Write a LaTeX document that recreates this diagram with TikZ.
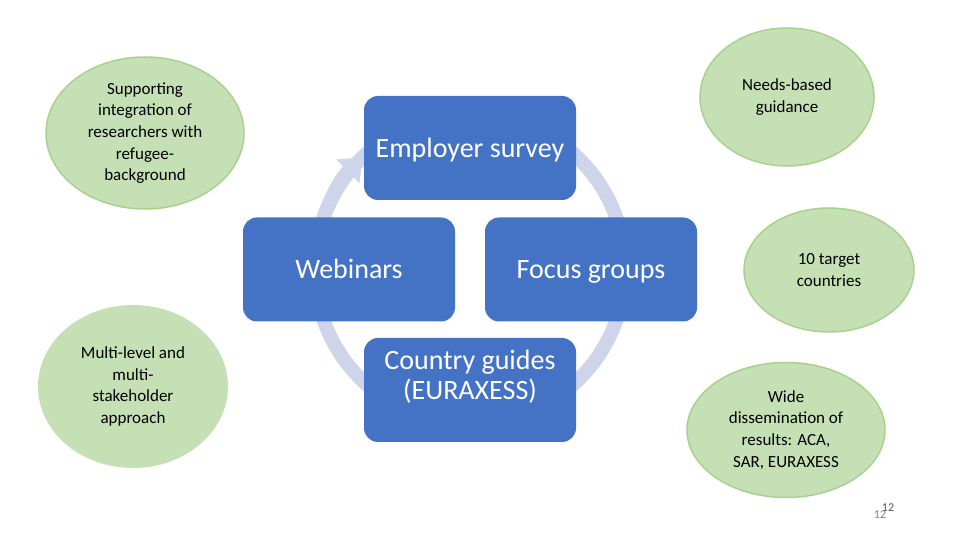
\documentclass[tikz,border=0pt]{standalone}
\usepackage{fontspec}
\setmainfont{Carlito}
\usetikzlibrary{arrows.meta,positioning,shapes.geometric}
\definecolor{boxblue}{HTML}{4472C4}
\definecolor{ringgray}{HTML}{CED4EA}
\definecolor{leaf}{HTML}{C5E0B4}
\definecolor{leafline}{HTML}{A9D18E}
\definecolor{pagegray}{HTML}{7F7F7F}
\definecolor{pagedark}{HTML}{595959}
\tikzset{stage/.style={fill=boxblue,rounded corners=14pt,minimum width=212pt,minimum height=104pt,align=center,text=white,font=\fontsize{28}{31}\selectfont,inner sep=0pt,text height=22pt,text depth=3pt},stagetext/.style={align=center,text=white,font=\fontsize{28}{30}\selectfont,inner sep=0pt},goal/.style={ellipse,fill=leaf,draw=leafline,line width=1.5pt,inner sep=0pt,align=center,font=\fontsize{17}{21.7}\selectfont},ring/.style={draw=ringgray,line width=14pt},pagenum/.style={font=\fontsize{12}{14}\selectfont,inner sep=0pt}}
\begin{document}
\begin{tikzpicture}[x=1pt,y=1pt]
\useasboundingbox (0,0) rectangle (960,540);
\coordinate (c) at (470,271);
\draw[ring] (c) circle (155pt);
\draw[ring,-{Triangle[width=32pt,length=20pt]}] ([shift={(168:155pt)}]c) arc (168:134:155pt);
\node[stage] (emp) at (470,392) {Employer survey};
\node[stage] (web) at (349,270.5) {Webinars};
\node[stage] (foc) at (591,270.5) {Focus groups};
\node[stage] (cg) at (470,150) {};
\node[stagetext] at ([yshift=13pt]cg.center) {Country guides\\(EURAXESS)};
\node[goal,minimum width=198pt,minimum height=152pt] (sup) at (145,407) {Supporting\\integration of\\researchers with\\refugee-\\background};
\node[goal,minimum width=174pt,minimum height=138pt] (need) at (787,443) {Needs-based\\guidance};
\node[goal,minimum width=170pt,minimum height=124pt] (tgt) at (829,270) {10 target\\countries};
\node[goal,minimum width=198pt,minimum height=135pt] (dis) at (786,110) {Wide\\dissemination of\\results: ACA,\\SAR, EURAXESS};
\node[goal,draw=none,minimum width=190pt,minimum height=163pt] (mls) at (133,153.5) {Multi-level and\\multi-\\stakeholder\\approach};
\node[pagenum,text=pagegray] (pg) at (880,25) {12};
\node[pagenum,text=pagedark] (pgb) at (888,32) {12};
\end{tikzpicture}
\end{document}
